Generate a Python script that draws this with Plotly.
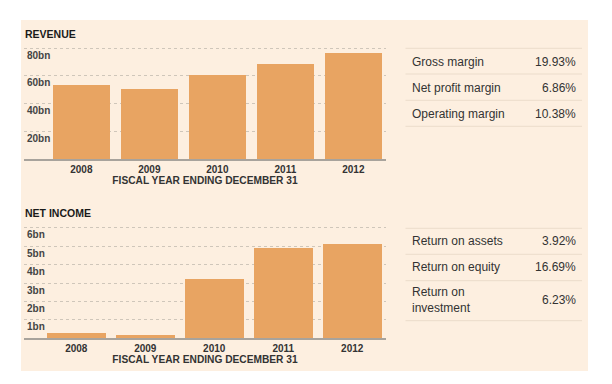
import plotly.graph_objects as go

years = ["2008", "2009", "2010", "2011", "2012"]
revenue_bn = [53.6, 50.7, 60.9, 69.1, 77.0]
net_income_bn = [0.30, 0.20, 3.23, 4.92, 5.12]
rev_ticks = [20, 40, 60, 80]
rev_ticktext = ["20bn", "40bn", "60bn", "80bn"]
ni_ticks = [1, 2, 3, 4, 5, 6]
ni_ticktext = ["1bn", "2bn", "3bn", "4bn", "5bn", "6bn"]
rev_table_labels = ["Gross margin", "Net profit margin", "Operating margin"]
rev_table_values = ["19.93%", "6.86%", "10.38%"]
ni_table_labels = ["Return on assets", "Return on equity", "Return on<br>investment"]
ni_table_values = ["3.92%", "16.69%", "6.23%"]

W, H = 612, 384
BG = "#FDEFE0"
BAR = "#E8A462"
GRID = "#CFC6BA"
AXIS = "#A8A39C"
TXT = "#333333"
FONT = "Liberation Sans, Arial, sans-serif"

def px(x):
    return x / W

def py(y):
    return 1 - y / H

fig = go.Figure()
fig.add_trace(go.Bar(x=years, y=revenue_bn, marker=dict(color=BAR, line=dict(width=0)),
                     width=0.843, xaxis="x", yaxis="y", hoverinfo="x+y"))
fig.add_trace(go.Bar(x=years, y=net_income_bn, marker=dict(color=BAR, line=dict(width=0)),
                     width=0.85, xaxis="x2", yaxis="y2", hoverinfo="x+y"))

common_x = dict(type="category", showgrid=False, showline=True, linecolor=AXIS, linewidth=2,
                ticks="", tickfont=dict(family=FONT, size=10, color=TXT, weight="bold"),
                fixedrange=True, zeroline=False,
                title=dict(text="FISCAL YEAR ENDING DECEMBER 31", standoff=3,
                           font=dict(family=FONT, size=10.2, color=TXT, weight="bold")))
common_y = dict(showgrid=True, gridcolor=GRID, griddash="dot", gridwidth=1, zeroline=False,
                showline=False, ticks="", ticklabelposition="inside", ticklabelshift=7,
                ticklabelstandoff=0,
                tickfont=dict(family=FONT, size=10, color="#444444", weight="bold"),
                fixedrange=True)

fig.update_layout(
    width=W, height=H, margin=dict(l=0, r=0, t=0, b=0),
    paper_bgcolor="white", plot_bgcolor="rgba(0,0,0,0)",
    showlegend=False, bargap=0,
    xaxis=dict(common_x, domain=[px(24), px(386)], range=[-0.843, 4.48], anchor="y"),
    yaxis=dict(common_y, domain=[py(159), py(45.5)], range=[0, 82],
               tickvals=rev_ticks, ticktext=rev_ticktext, anchor="x"),
    xaxis2=dict(common_x, domain=[px(24), px(386)], range=[-0.758, 4.49], anchor="y2"),
    yaxis2=dict(common_y, domain=[py(338.3), py(225)], range=[0, 6.15],
                tickvals=ni_ticks, ticktext=ni_ticktext, anchor="x2"),
)

shapes = [dict(type="rect", xref="paper", yref="paper", x0=px(21), x1=px(588),
               y0=py(371), y1=py(20), fillcolor=BG, line=dict(width=0), layer="below")]
annotations = [
    dict(text="REVENUE", x=px(22.5), y=py(34), xref="paper", yref="paper", xanchor="left",
         yanchor="middle", showarrow=False,
         font=dict(family=FONT, size=10.5, color="#1a1a1a", weight="bold")),
    dict(text="NET INCOME", x=px(22.5), y=py(213), xref="paper", yref="paper", xanchor="left",
         yanchor="middle", showarrow=False,
         font=dict(family=FONT, size=10.5, color="#1a1a1a", weight="bold")),
]

LINE = "#EBDCCB"

def add_table(lines_y, labels, values, text_y, value_y):
    for ly in lines_y:
        shapes.append(dict(type="line", xref="paper", yref="paper", x0=px(405.5), x1=px(582),
                           y0=py(ly), y1=py(ly), line=dict(color=LINE, width=1)))
    for lab, val, ty, vy in zip(labels, values, text_y, value_y):
        annotations.append(dict(text=lab, x=px(410), y=py(ty), xref="paper", yref="paper",
                                xanchor="left", yanchor="middle", align="left", showarrow=False,
                                font=dict(family=FONT, size=12, color=TXT)))
        annotations.append(dict(text=val, x=px(577.5), y=py(vy), xref="paper", yref="paper",
                                xanchor="right", yanchor="middle", align="right", showarrow=False,
                                font=dict(family=FONT, size=12, color=TXT)))

add_table([48.3, 74, 100.3, 126.3], rev_table_labels, rev_table_values,
          [62.3, 88, 114], [62.3, 88, 114])
add_table([228.3, 254.3, 280.7, 320.7], ni_table_labels, ni_table_values,
          [241, 267.3, 300], [241, 267.3, 300])

fig.update_layout(shapes=shapes, annotations=annotations)
fig.write_html("out.html", config={"displayModeBar": False},
               post_script="document.body.style.margin='0';document.body.style.padding='0';"
                           "document.body.style.overflow='hidden';")
